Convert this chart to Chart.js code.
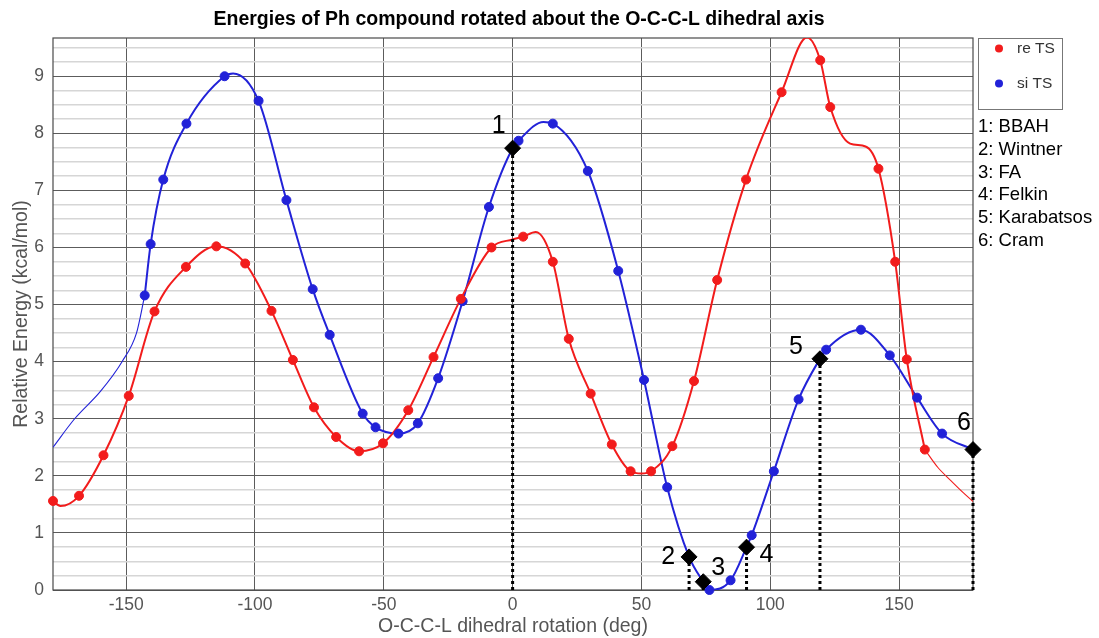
<!DOCTYPE html>
<html>
<head>
<meta charset="utf-8">
<script src="https://cdn.jsdelivr.net/npm/chart.js@4/dist/chart.umd.min.js"></script>
<style>
  html, body { margin: 0; padding: 0; background: #fff; }
  #wrap { width: 1099px; height: 638px; }
</style>
</head>
<body>
<div id="wrap"><canvas id="c" width="1099" height="638"></canvas></div>
<script>
// ---------- data ----------
// computed energies, re transition state (markers)
const reX = [-178.4, -168.3, -158.8, -149, -139, -126.8, -115, -103.8, -93.6, -85.3, -77.1, -68.5,
             -59.6, -50.3, -40.5, -30.7, -20.1, -8.2, 4.1, 15.6, 21.8, 30.3, 38.5, 45.8, 53.75, 62,
             70.4, 79.4, 90.6, 104.4, 119.4, 123.3, 142, 148.5, 153, 160];
const reY = [1.56, 1.65, 2.36, 3.40, 4.88, 5.66, 6.02, 5.72, 4.89, 4.03, 3.20, 2.68,
             2.43, 2.57, 3.15, 4.08, 5.10, 6.00, 6.19, 5.75, 4.40, 3.44, 2.55, 2.08, 2.08, 2.52,
             3.66, 5.43, 7.19, 8.72, 9.28, 8.46, 7.38, 5.75, 4.04, 2.46];

// computed energies, si transition state (markers)
const siX = [-142.8, -140.5, -135.6, -126.6, -111.8, -98.6, -87.8, -77.6, -71, -58.2, -53.2, -44.3,
             -36.8, -28.9, -19.4, -9.2, 2.3, 15.6, 29.2, 41, 51, 60, 76.4, 84.6, 92.8, 101.4,
             111, 121.7, 135.2, 146.4, 157, 166.7];
const siY = [5.16, 6.06, 7.19, 8.17, 9.0, 8.57, 6.83, 5.27, 4.47, 3.09, 2.85, 2.74,
             2.92, 3.71, 5.06, 6.71, 7.87, 8.17, 7.34, 5.59, 3.68, 1.80, 0.0, 0.17, 0.96, 2.08,
             3.34, 4.21, 4.56, 4.11, 3.37, 2.74];

// fitted curve: turning points between the markers
const reFitX = [-175.5, 0, 9, 50, 114.3, 131, 137];
const reFitY = [1.47, 6.14, 6.27, 2.04, 9.68, 7.82, 7.77];
const siFitX = [-108.5, 12];
const siFitY = [9.05, 8.20];

// fitted curve continued past the outermost markers
const reTailX = [160, 165, 170, 175, 178.7];
const reTailY = [2.46, 2.15, 1.92, 1.70, 1.55];
const siHeadX = [-178.4, -170, -160, -151.6, -146, -142.8];
const siHeadY = [2.50, 3.00, 3.48, 4.00, 4.50, 5.16];

// named conformers on the si curve
const confLabels = ['1', '2', '3', '4', '5', '6'];
const confNames  = ['BBAH', 'Wintner', 'FA', 'Felkin', 'Karabatsos', 'Cram'];
const confX = [0, 68.5, 74, 90.8, 119.3, 178.7];
const confY = [7.74, 0.58, 0.145, 0.75, 4.05, 2.46];

// axes
const xTicks = [-150, -100, -50, 0, 50, 100, 150];
const xRange = [-178.4, 178.7];
const yTickLabels = [0, 1, 2, 3, 4, 5, 6, 7, 8, 9];
const yMinorStep = 0.25;
const yRange = [0, 9.67];

// ---------- styling ----------
const FONT = "'Liberation Sans', Arial, Helvetica, sans-serif";
const RED = 'rgb(242,28,28)';
const BLUE = 'rgb(34,34,216)';
const MAJOR = '#5c5c5c';
const MINOR = '#d6d6d6';
// where each conformer number sits relative to its diamond (px)
const confLabelOffset = [[-14, -22], [-21, 0], [15, -14], [20, 8], [-24, -12], [-9, -26]];

const pts = (xs, ys) => xs.map((x, i) => ({ x, y: ys[i] }));
const mergeSorted = (...sets) => sets.flat().sort((a, b) => a.x - b.x);

const yGrid = [];
for (let v = 0; v <= yTickLabels[yTickLabels.length - 1] + 0.5; v += yMinorStep) yGrid.push(v);

const reCurve = mergeSorted(pts(reX, reY), pts(reFitX, reFitY));
const siCurve = mergeSorted(pts(siX, siY), pts(siFitX, siFitY), pts(confX, confY));

const stems = confX.map((x, i) => ({
  data: [{ x, y: 0 }, { x, y: confY[i] }],
  borderColor: '#000', borderWidth: 3, borderDash: [3, 3],
  pointRadius: 0, clip: false, order: 1
}));

const curveBase = { pointRadius: 0, cubicInterpolationMode: 'monotone', order: 3 };

const datasets = [
  { label: 'conformers', data: pts(confX, confY), showLine: false, pointStyle: 'rectRot',
    pointRadius: 8, pointBackgroundColor: '#000', pointBorderColor: '#000', clip: false, order: 0 },
  ...stems,
  { label: 're TS', data: pts(reX, reY), showLine: false, pointRadius: 4.5,
    pointBackgroundColor: RED, pointBorderColor: RED, clip: false, order: 2 },
  { label: 'si TS', data: pts(siX, siY), showLine: false, pointRadius: 4.5,
    pointBackgroundColor: BLUE, pointBorderColor: BLUE, clip: false, order: 2 },
  { ...curveBase, data: reCurve, borderColor: RED, borderWidth: 2 },
  { ...curveBase, data: pts(reTailX, reTailY), borderColor: RED, borderWidth: 1.1 },
  { ...curveBase, data: siCurve, borderColor: BLUE, borderWidth: 2 },
  { ...curveBase, data: pts(siHeadX, siHeadY), borderColor: BLUE, borderWidth: 1.1 }
];

// ---------- decorations drawn on the canvas ----------
const decorations = {
  id: 'decorations',
  beforeDatasetsDraw(chart) {
    const { ctx, chartArea: a } = chart;
    ctx.save();
    ctx.strokeStyle = '#4a4a4a';
    ctx.lineWidth = 1.2;
    ctx.strokeRect(a.left, a.top, a.right - a.left, a.bottom - a.top);
    ctx.restore();
  },
  afterDatasetsDraw(chart) {
    const { ctx, scales: { x, y } } = chart;
    ctx.save();
    ctx.fillStyle = '#000';
    ctx.font = `25px ${FONT}`;
    ctx.textAlign = 'center';
    ctx.textBaseline = 'middle';
    confLabels.forEach((t, i) => {
      const [dx, dy] = confLabelOffset[i];
      ctx.fillText(t, x.getPixelForValue(confX[i]) + dx, y.getPixelForValue(confY[i]) + dy);
    });
    ctx.restore();
  },
  afterDraw(chart) {
    const { ctx, chartArea: a } = chart;
    ctx.save();
    // title
    ctx.fillStyle = '#000';
    ctx.font = `bold 19.5px ${FONT}`;
    ctx.textAlign = 'center';
    ctx.textBaseline = 'middle';
    ctx.fillText('Energies of Ph compound rotated about the O-C-C-L dihedral axis', (a.left + a.right) / 2 + 6, 20);

    // legend box
    const lx = a.right + 5, ly = a.top + 0.5;
    ctx.fillStyle = '#fff';
    ctx.fillRect(lx, ly, 84, 71);
    ctx.strokeStyle = '#777';
    ctx.lineWidth = 1;
    ctx.strokeRect(lx + 0.5, ly, 84, 71);
    ctx.font = `15.5px ${FONT}`;
    ctx.textAlign = 'left';
    [[RED, 're TS', 10], [BLUE, 'si TS', 45]].forEach(([col, txt, oy]) => {
      ctx.fillStyle = col;
      ctx.beginPath();
      ctx.arc(lx + 21, ly + oy, 4, 0, Math.PI * 2);
      ctx.fill();
      ctx.fillStyle = '#333';
      ctx.fillText(txt, lx + 39, ly + oy);
    });

    // conformer key
    ctx.fillStyle = '#000';
    ctx.font = `18.5px ${FONT}`;
    confNames.forEach((n, i) => {
      ctx.fillText(`${confLabels[i]}: ${n}`, lx, 127 + i * 22.8);
    });
    ctx.restore();
  }
};

new Chart(document.getElementById('c'), {
  type: 'line',
  data: { datasets },
  plugins: [decorations],
  options: {
    responsive: false,
    devicePixelRatio: 1,
    animation: false,
    events: [],
    layout: { padding: { top: 38, right: 126, bottom: 0, left: 0 } },
    plugins: { legend: { display: false }, title: { display: false }, tooltip: { enabled: false } },
    scales: {
      x: {
        type: 'linear', min: xRange[0], max: xRange[1],
        afterBuildTicks: s => { s.ticks = xTicks.map(v => ({ value: v })); },
        afterFit: s => { s.height = 48; },
        border: { display: false },
        grid: { drawTicks: false, color: MAJOR, lineWidth: 1 },
        ticks: { autoSkip: false, maxRotation: 0, padding: 5, color: '#555',
                 font: { family: FONT, size: 17.5 } },
        title: { display: true, text: 'O-C-C-L dihedral rotation (deg)', color: '#555',
                 font: { family: FONT, size: 19.5 }, padding: { top: 0, bottom: 0 } }
      },
      y: {
        type: 'linear', min: yRange[0], max: yRange[1],
        afterBuildTicks: s => { s.ticks = yGrid.map(v => ({ value: v })); },
        afterFit: s => { s.width = 53; },
        border: { display: false },
        grid: {
          drawTicks: false,
          color: c => yTickLabels.includes(c.tick.value) ? MAJOR : MINOR,
          lineWidth: c => yTickLabels.includes(c.tick.value) ? 1 : 1.4
        },
        ticks: { autoSkip: false, padding: 9, color: '#555', font: { family: FONT, size: 17.5 },
                 callback: v => yTickLabels.includes(v) ? String(v) : '' },
        title: { display: true, text: 'Relative Energy (kcal/mol)', color: '#555',
                 font: { family: FONT, size: 19.5 }, padding: { top: 10, bottom: 0 } }
      }
    }
  }
});
</script>
</body>
</html>
